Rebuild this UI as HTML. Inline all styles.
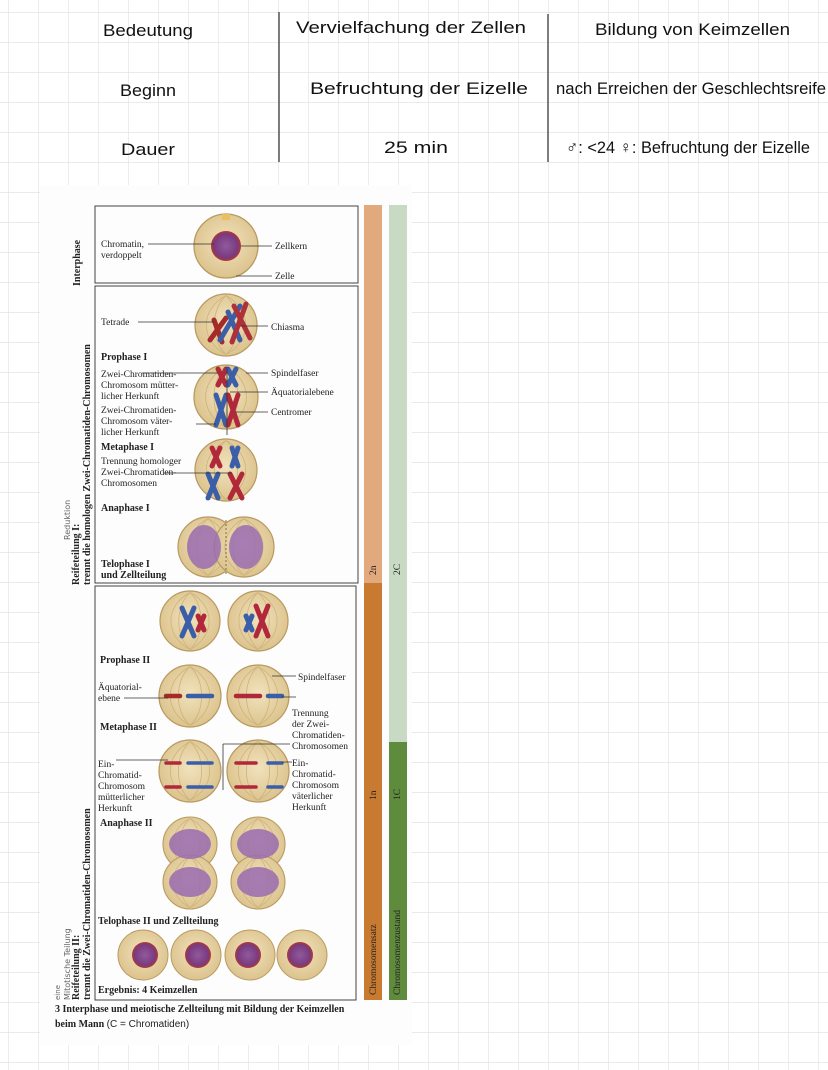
<!DOCTYPE html>
<html><head><meta charset="utf-8"><style>
html,body{margin:0;padding:0;background:#fff}
svg{display:block}
.hw{font-family:"Liberation Sans",sans-serif;font-size:17px;fill:#111}
.lb{font-family:"Liberation Serif",serif;font-size:9.5px;fill:#222}
.bd{font-family:"Liberation Serif",serif;font-size:10px;font-weight:bold;fill:#222}
.ln{stroke:#333;stroke-width:0.8;fill:none}
.sp{stroke:#c9ad72;stroke-width:0.7;fill:none}
</style></head><body>
<svg width="828" height="1070" viewBox="0 0 828 1070" xmlns="http://www.w3.org/2000/svg">
<defs>
<pattern id="g" x="8" y="12" width="30" height="30" patternUnits="userSpaceOnUse">
<path d="M0 0V30M0 0H30" stroke="#e3e3e3" stroke-width="1.4" fill="none"/>
</pattern>
<radialGradient id="cell" cx="50%" cy="45%" r="55%"><stop offset="0" stop-color="#f1e2bd"/><stop offset="1" stop-color="#dcc38d"/></radialGradient>
<radialGradient id="nuc" cx="50%" cy="50%" r="50%"><stop offset="0" stop-color="#8f5a9c"/><stop offset="0.8" stop-color="#7a3a7e"/><stop offset="1" stop-color="#b2382e"/></radialGradient>
<g id="c"><circle r="1" fill="url(#cell)" stroke="#b89a60" stroke-width="0.04"/><path d="M0 -0.95C-0.5 -0.5 -0.5 0.5 0 0.95M0 -0.95C0.5 -0.5 0.5 0.5 0 0.95M0 -0.95C-0.85 -0.5 -0.85 0.5 0 0.95M0 -0.95C0.85 -0.5 0.85 0.5 0 0.95" stroke="#cdb27a" stroke-width="0.025" fill="none"/></g>
</defs>
<rect width="828" height="1070" fill="url(#g)"/>
<!-- table -->
<line x1="279" y1="12" x2="279" y2="162" stroke="#555" stroke-width="1.5"/>
<line x1="548" y1="14" x2="548" y2="162" stroke="#555" stroke-width="1.5"/>
<text class="hw" x="103" y="36" textLength="90" lengthAdjust="spacingAndGlyphs">Bedeutung</text>
<text class="hw" x="296" y="33" textLength="230" lengthAdjust="spacingAndGlyphs">Vervielfachung der Zellen</text>
<text class="hw" x="595" y="35" textLength="195" lengthAdjust="spacingAndGlyphs">Bildung von Keimzellen</text>
<text class="hw" x="120" y="96" textLength="56" lengthAdjust="spacingAndGlyphs">Beginn</text>
<text class="hw" x="310" y="94" textLength="218" lengthAdjust="spacingAndGlyphs">Befruchtung der Eizelle</text>
<text class="hw" x="556" y="94" font-size="15" textLength="270" lengthAdjust="spacingAndGlyphs">nach Erreichen der Geschlechtsreife</text>
<text class="hw" x="121" y="155" textLength="54" lengthAdjust="spacingAndGlyphs">Dauer</text>
<text class="hw" x="384" y="153" textLength="64" lengthAdjust="spacingAndGlyphs">25 min</text>
<text class="hw" x="566" y="153" font-size="12" textLength="244" lengthAdjust="spacingAndGlyphs">♂: &lt;24   ♀: Befruchtung der Eizelle</text>
<!-- photo sheet -->
<rect x="40" y="185" width="372" height="860" fill="#fdfdfd"/>
<rect x="95" y="206" width="263" height="77" fill="none" stroke="#444" stroke-width="1"/>
<rect x="95" y="286" width="263" height="297" fill="none" stroke="#444" stroke-width="1"/>
<rect x="95" y="586" width="261" height="414" fill="none" stroke="#444" stroke-width="1"/>
<rect x="364" y="205" width="18" height="378" fill="#e2a97c"/>
<rect x="364" y="583" width="18" height="417" fill="#c77a30"/>
<rect x="389" y="205" width="18" height="537" fill="#c9dac4"/>
<rect x="389" y="742" width="18" height="258" fill="#5f8b3d"/>
<text class="lb" transform="translate(376,575) rotate(-90)">2n</text>
<text class="lb" transform="translate(400,575) rotate(-90)">2C</text>
<text class="lb" transform="translate(376,800) rotate(-90)">1n</text>
<text class="lb" transform="translate(400,800) rotate(-90)">1C</text>
<text class="lb" fill="#3a2a10" transform="translate(376,995) rotate(-90)">Chromosomensatz</text>
<text class="lb" fill="#1f3010" transform="translate(400,995) rotate(-90)">Chromosomenzustand</text>
<text class="bd" transform="translate(80,286) rotate(-90)">Interphase</text>
<text class="bd" transform="translate(79,585) rotate(-90)">Reifeteilung I:</text>
<text class="bd" transform="translate(90,585) rotate(-90)">trennt die homologen Zwei-Chromatiden-Chromosomen</text>
<text class="bd" transform="translate(79,1000) rotate(-90)">Reifeteilung II:</text>
<text class="bd" transform="translate(90,1000) rotate(-90)">trennt die Zwei-Chromatiden-Chromosomen</text>
<text font-family="DejaVu Sans,sans-serif" font-size="8" fill="#666" transform="translate(70,540) rotate(-90)">Reduktion</text>
<text font-family="DejaVu Sans,sans-serif" font-size="8" fill="#666" transform="translate(70,1000) rotate(-90)">Mitotische Teilung</text>
<text font-family="DejaVu Sans,sans-serif" font-size="7" fill="#666" transform="translate(60,1000) rotate(-90)">eine</text>
<!-- interphase -->
<circle cx="226" cy="246" r="32" fill="url(#cell)" stroke="#b89a60" stroke-width="1.3"/>
<circle cx="226" cy="246" r="15" fill="url(#nuc)"/>
<rect x="222" y="214" width="8" height="6" fill="#e8c060"/>
<text class="lb" x="101" y="247">Chromatin,</text><text class="lb" x="101" y="258">verdoppelt</text>
<path class="ln" d="M148 244H214M241 246H272M236 276H272"/>
<text class="lb" x="275" y="249">Zellkern</text><text class="lb" x="275" y="279">Zelle</text>
<!-- tetrade -->
<use href="#c" transform="translate(226,325) scale(31)"/>
<g stroke-width="5" stroke-linecap="round">
<path d="M210 340L226 318M214 320L222 342" stroke="#a52a2a"/><path d="M220 340L240 306M228 312L240 340" stroke="#3a5fa8"/>
<path d="M232 342L246 304M234 306L250 338" stroke="#b0303a"/></g>
<text class="lb" x="101" y="325">Tetrade</text><path class="ln" d="M138 322H214M240 326H268"/>
<text class="lb" x="271" y="330">Chiasma</text>
<text class="bd" x="101" y="360">Prophase I</text>
<use href="#c" transform="translate(226,397) scale(32)"/>
<g stroke-width="5" stroke-linecap="round">
<path d="M218 369L226 385M226 369L218 385" stroke="#b0283a"/><path d="M228 369L236 385M236 369L228 385" stroke="#3a5fa8"/>
<path d="M216 395L226 425M226 395L216 425" stroke="#3a5fa8"/><path d="M228 395L238 425M238 395L228 425" stroke="#b0283a"/></g>
<path class="ln" d="M227 367V435"/>
<text class="lb" x="101" y="377">Zwei-Chromatiden-</text><text class="lb" x="101" y="388">Chromosom mütter-</text><text class="lb" x="101" y="399">licher Herkunft</text>
<text class="lb" x="101" y="413">Zwei-Chromatiden-</text><text class="lb" x="101" y="424">Chromosom väter-</text><text class="lb" x="101" y="435">licher Herkunft</text>
<path class="ln" d="M142 373H218M196 424H216M246 373H268M230 392H268M236 412H268"/>
<text class="lb" x="271" y="376">Spindelfaser</text><text class="lb" x="271" y="395">Äquatorialebene</text><text class="lb" x="271" y="415">Centromer</text>
<text class="bd" x="101" y="450">Metaphase I</text>
<use href="#c" transform="translate(226,470) scale(31)"/>
<g stroke-width="5" stroke-linecap="round">
<path d="M212 448L220 466M220 448L212 466" stroke="#b0283a"/><path d="M232 448L238 466M238 448L232 466" stroke="#3a5fa8"/>
<path d="M208 474L218 498M218 474L208 498" stroke="#3a5fa8"/><path d="M230 474L242 498M242 474L230 498" stroke="#b0283a"/></g>
<text class="lb" x="101" y="464">Trennung homologer</text><text class="lb" x="101" y="475">Zwei-Chromatiden-</text><text class="lb" x="101" y="486">Chromosomen</text>
<path class="ln" d="M164 473H232"/>
<text class="bd" x="101" y="511">Anaphase I</text>
<use href="#c" transform="translate(208,547) scale(30)"/><use href="#c" transform="translate(244,547) scale(30)"/>
<ellipse cx="204" cy="547" rx="17" ry="22" fill="#9a6cb0" opacity=".85"/><ellipse cx="246" cy="547" rx="17" ry="22" fill="#9a6cb0" opacity=".85"/>
<path d="M226 520V575" stroke="#8a7040" stroke-dasharray="2 2"/>
<text class="bd" x="101" y="567">Telophase I</text><text class="bd" x="101" y="578">und Zellteilung</text>
<!-- prophase II -->
<use href="#c" transform="translate(190,621) scale(30)"/><use href="#c" transform="translate(258,621) scale(30)"/>
<g stroke-width="5" stroke-linecap="round">
<path d="M182 608L194 636M194 608L182 636" stroke="#3a5fa8"/><path d="M198 616L204 630M204 616L198 630" stroke="#b0283a"/>
<path d="M246 616L252 630M252 616L246 630" stroke="#3a5fa8"/><path d="M256 606L268 636M268 606L256 636" stroke="#b0283a"/></g>
<text class="bd" x="100" y="663">Prophase II</text>
<use href="#c" transform="translate(190,696) scale(31)"/><use href="#c" transform="translate(258,696) scale(31)"/>
<g stroke-width="4.5" stroke-linecap="round">
<path d="M166 696H180" stroke="#a52a2a"/><path d="M188 696H212" stroke="#3a5fa8"/>
<path d="M236 696H260" stroke="#b0283a"/><path d="M268 696H282" stroke="#3a5fa8"/></g>
<text class="lb" x="98" y="690">Äquatorial-</text><text class="lb" x="98" y="701">ebene</text>
<path class="ln" d="M124 698H168M282 697H296M272 676H296"/>
<text class="lb" x="298" y="680">Spindelfaser</text>
<text class="lb" x="292" y="716">Trennung</text><text class="lb" x="292" y="727">der Zwei-</text><text class="lb" x="292" y="738">Chromatiden-</text><text class="lb" x="292" y="749">Chromosomen</text>
<text class="bd" x="100" y="730">Metaphase II</text>
<use href="#c" transform="translate(190,771) scale(31)"/><use href="#c" transform="translate(258,771) scale(31)"/>
<g stroke-width="3.5" stroke-linecap="round" fill="none">
<path d="M166 763H180M166 787H180M236 763H256M236 787H256" stroke="#b0283a"/>
<path d="M188 763H212M188 787H212M268 763H282M268 787H282" stroke="#3a5fa8"/></g>
<path class="ln" d="M223 744H290M223 744V790M116 760H168M282 762H292"/>
<text class="lb" x="98" y="767">Ein-</text><text class="lb" x="98" y="778">Chromatid-</text><text class="lb" x="98" y="789">Chromosom</text><text class="lb" x="98" y="800">mütterlicher</text><text class="lb" x="98" y="811">Herkunft</text>
<text class="lb" x="292" y="766">Ein-</text><text class="lb" x="292" y="777">Chromatid-</text><text class="lb" x="292" y="788">Chromosom</text><text class="lb" x="292" y="799">väterlicher</text><text class="lb" x="292" y="810">Herkunft</text>
<text class="bd" x="100" y="826">Anaphase II</text>
<use href="#c" transform="translate(190,844) scale(27)"/><use href="#c" transform="translate(190,882) scale(27)"/>
<use href="#c" transform="translate(258,844) scale(27)"/><use href="#c" transform="translate(258,882) scale(27)"/>
<g fill="#9a6cb0" opacity=".85"><ellipse cx="190" cy="844" rx="21" ry="15"/><ellipse cx="190" cy="882" rx="21" ry="15"/><ellipse cx="258" cy="844" rx="21" ry="15"/><ellipse cx="258" cy="882" rx="21" ry="15"/></g>
<text class="bd" x="98" y="924">Telophase II und Zellteilung</text>
<g fill="url(#cell)" stroke="#b89a60" stroke-width="1"><circle cx="143" cy="955" r="25"/><circle cx="196" cy="955" r="25"/><circle cx="250" cy="955" r="25"/><circle cx="302" cy="955" r="25"/></g>
<circle cx="145" cy="955" r="13" fill="url(#nuc)"/><circle cx="198" cy="955" r="13" fill="url(#nuc)"/>
<circle cx="248" cy="955" r="13" fill="url(#nuc)"/><circle cx="300" cy="955" r="13" fill="url(#nuc)"/>
<text class="bd" x="98" y="993">Ergebnis: 4 Keimzellen</text>
<text class="bd" x="55" y="1012" font-size="10.5">3  Interphase und meiotische Zellteilung mit Bildung der Keimzellen</text>
<text class="bd" x="55" y="1027" font-size="10.5">beim Mann <tspan font-weight="normal" font-family="Liberation Sans,sans-serif">(C = Chromatiden)</tspan></text>
</svg>
</body></html>
